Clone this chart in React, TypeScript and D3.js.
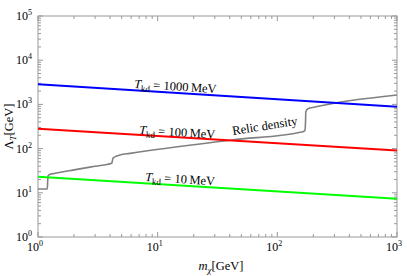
import React from 'react';
import * as d3 from 'd3';

// x: dark matter mass m_chi [GeV], y: Lambda_T [GeV]
const massEnds = [1, 1000];
const tkd1000 = [2850, 890];
const tkd100 = [282, 90];
const tkd10 = [23, 7.3];

// relic density curve
const relicMass = [1, 1.196, 1.205, 1.212, 1.25, 1.39, 2, 3, 4.13, 4.18, 4.23, 4.5, 4.84, 5.87, 41.8, 163.6, 170, 172, 173, 180, 206, 1000];
const relicLambda = [12.2, 12.2, 18, 24, 26, 27.6, 33, 40, 46.5, 52, 60.4, 67, 71.6, 78, 157, 241, 260, 400, 684, 800, 873, 1633];

const xTickVals = [1, 10, 100, 1000];
const xTickExps = ['0', '1', '2', '3'];
const yTickVals = [1, 10, 100, 1000, 10000, 100000];
const yTickExps = ['0', '1', '2', '3', '4', '5'];

const W = 407;
const H = 276;
const m = { left: 38, right: 397, top: 16, bottom: 237 };
const serif = '"Liberation Serif", "Times New Roman", serif';
const frameColor = '#999';

function minorTicks(lo: number, hi: number) {
  const out: number[] = [];
  for (let d = lo; d < hi; d *= 10) {
    for (let k = 2; k <= 9; k++) out.push(d * k);
  }
  return out;
}

export default function App() {
  const x = d3.scaleLog().domain([1, 1000]).range([m.left, m.right]);
  const y = d3.scaleLog().domain([1, 100000]).range([m.bottom, m.top]);

  const line = d3
    .line<[number, number]>()
    .x((d) => x(d[0]))
    .y((d) => y(d[1]));

  const straight = (vals: number[]) =>
    line(massEnds.map((mv, i) => [mv, vals[i]] as [number, number])) || '';

  const relicPath =
    d3
      .line<[number, number]>()
      .x((d) => x(d[0]))
      .y((d) => y(d[1]))
      .curve(d3.curveMonotoneX)(relicMass.map((mv, i) => [mv, relicLambda[i]] as [number, number])) || '';

  const xMinor = minorTicks(1, 1000);
  const yMinor = minorTicks(1, 100000);

  const angle = (vals: number[]) =>
    (Math.atan2(y(vals[1]) - y(vals[0]), x(massEnds[1]) - x(massEnds[0])) * 180) / Math.PI;

  const tkdLabel = (vals: number[], value: string, tx: number, ty: number) => (
    <text
      x={tx}
      y={ty}
      fontFamily={serif}
      fontSize={12.5}
      transform={`rotate(${angle(vals)}, ${tx}, ${ty})`}
    >
      <tspan fontStyle="italic">T</tspan>
      <tspan fontSize={9} dy={3}>kd</tspan>
      <tspan dy={-3}>{` = ${value}\u2009MeV`}</tspan>
    </text>
  );

  return (
    <svg
      width={W}
      height={H}
      style={{ position: 'absolute', left: 0, top: 0, background: '#fff' }}
    >
      {/* frame */}
      <rect
        x={m.left}
        y={m.top}
        width={m.right - m.left}
        height={m.bottom - m.top}
        fill="none"
        stroke={frameColor}
        strokeWidth={1}
      />
      {/* x ticks bottom + top */}
      {xTickVals.map((v) => (
        <g key={'xM' + v} stroke={frameColor}>
          <line x1={x(v)} x2={x(v)} y1={m.bottom} y2={m.bottom - 5} />
          <line x1={x(v)} x2={x(v)} y1={m.top} y2={m.top + 5} />
        </g>
      ))}
      {xMinor.map((v) => (
        <g key={'xm' + v} stroke={frameColor}>
          <line x1={x(v)} x2={x(v)} y1={m.bottom} y2={m.bottom - 3} />
          <line x1={x(v)} x2={x(v)} y1={m.top} y2={m.top + 3} />
        </g>
      ))}
      {/* y ticks left + right */}
      {yTickVals.map((v) => (
        <g key={'yM' + v} stroke={frameColor}>
          <line x1={m.left} x2={m.left + 5} y1={y(v)} y2={y(v)} />
          <line x1={m.right} x2={m.right - 5} y1={y(v)} y2={y(v)} />
        </g>
      ))}
      {yMinor.map((v) => (
        <g key={'ym' + v} stroke={frameColor}>
          <line x1={m.left} x2={m.left + 3} y1={y(v)} y2={y(v)} />
          <line x1={m.right} x2={m.right - 3} y1={y(v)} y2={y(v)} />
        </g>
      ))}

      {/* tick labels */}
      {xTickVals.map((v, i) => (
        <text
          key={'xl' + v}
          x={x(v) - 3}
          y={m.bottom + 14}
          fontFamily={serif}
          fontSize={12}
          textAnchor="middle"
        >
          10
          <tspan fontSize={8} dy={-5}>{xTickExps[i]}</tspan>
        </text>
      ))}
      {yTickVals.map((v, i) => (
        <text
          key={'yl' + v}
          x={m.left - 6}
          y={y(v) + 4}
          fontFamily={serif}
          fontSize={12}
          textAnchor="end"
        >
          10
          <tspan fontSize={8} dy={-5}>{yTickExps[i]}</tspan>
        </text>
      ))}

      {/* axis titles */}
      <text x={221} y={270} fontFamily={serif} fontSize={12.5} textAnchor="middle">
        <tspan fontStyle="italic">m</tspan>
        <tspan fontSize={9} dy={3} fontStyle="italic">χ</tspan>
        <tspan dy={-3}>[GeV]</tspan>
      </text>
      <text
        x={13}
        y={(m.top + m.bottom) / 2}
        fontFamily={serif}
        fontSize={12.5}
        textAnchor="middle"
        transform={`rotate(-90, 13, ${(m.top + m.bottom) / 2})`}
      >
        Λ<tspan fontSize={9} dy={3} fontStyle="italic">T</tspan>
        <tspan dy={-3}>[GeV]</tspan>
      </text>

      {/* curves */}
      <path d={relicPath} fill="none" stroke="#808080" strokeWidth={1.6} />
      <path d={straight(tkd1000)} fill="none" stroke="#0000ff" strokeWidth={2} />
      <path d={straight(tkd100)} fill="none" stroke="#ff0000" strokeWidth={2} />
      <path d={straight(tkd10)} fill="none" stroke="#00ff00" strokeWidth={2} />

      {/* curve labels */}
      {tkdLabel(tkd1000, '1000', 134, 88)}
      {tkdLabel(tkd100, '100', 139, 134)}
      {tkdLabel(tkd10, '10', 145, 181)}
      <text
        x={233}
        y={135}
        fontFamily={serif}
        fontSize={12.5}
        transform="rotate(-9, 233, 135)"
      >
        Relic density
      </text>
    </svg>
  );
}
